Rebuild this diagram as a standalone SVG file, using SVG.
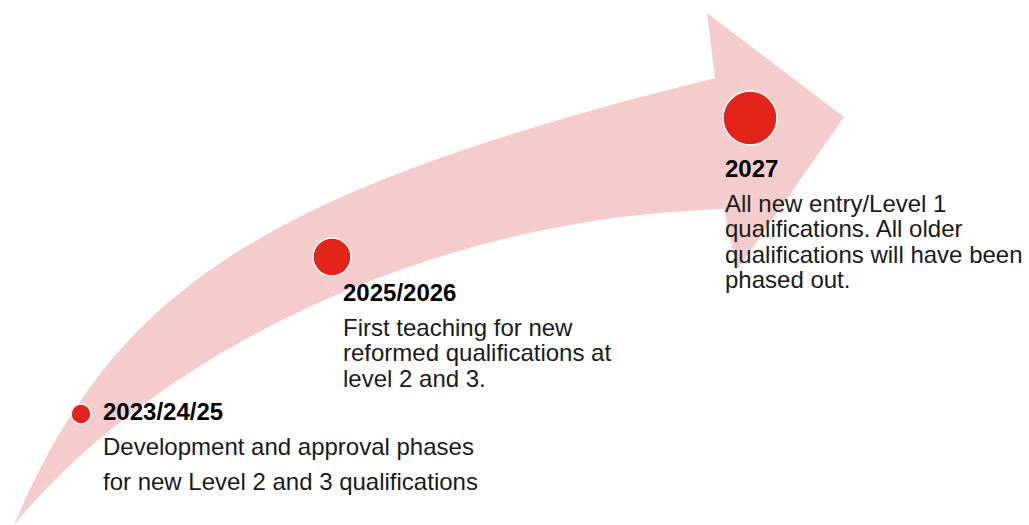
<svg xmlns="http://www.w3.org/2000/svg" width="1029" height="525" viewBox="0 0 1029 525">
  <style>
    .arrow { fill: #F5CCCC; stroke: none; }
    .dot { fill: #E2241B; stroke: #FFFFFF; stroke-width: 1.5; }
    .title { font-family: "Liberation Sans", Arial, sans-serif; font-size: 24px; font-weight: bold; fill: #000000; }
    .body { font-family: "Liberation Sans", Arial, sans-serif; font-size: 24px; fill: #1A1A1A; }
  </style>
  <rect width="1029" height="525" fill="#FFFFFF"/>
  <g id="connectors">
    <path class="arrow" d="M14,525 C115,290 257,192 715,78 L707,13 L844,117 L737,270 L724,209 C420,218 150,360 14,525 Z"/>
  </g>
  <g id="node-2023">
    <circle class="dot" cx="81" cy="414" r="10"/>
    <text class="title" x="103" y="420">2023/24/25</text>
    <text class="body" x="103" y="455">Development and approval phases</text>
    <text class="body" x="103" y="490">for new Level 2 and 3 qualifications</text>
  </g>
  <g id="node-2025">
    <circle class="dot" cx="332" cy="257" r="19"/>
    <text class="title" x="343" y="301">2025/2026</text>
    <text class="body" x="343" y="336">First teaching for new</text>
    <text class="body" x="343" y="361">reformed qualifications at</text>
    <text class="body" x="343" y="386.5">level 2 and 3.</text>
  </g>
  <g id="node-2027">
    <circle class="dot" cx="750" cy="118" r="27"/>
    <text class="title" x="725" y="176.5">2027</text>
    <text class="body" x="725" y="212">All new entry/Level 1</text>
    <text class="body" x="725" y="237.3">qualifications. All older</text>
    <text class="body" x="725" y="262.7">qualifications will have been</text>
    <text class="body" x="725" y="287.5">phased out.</text>
  </g>
</svg>
